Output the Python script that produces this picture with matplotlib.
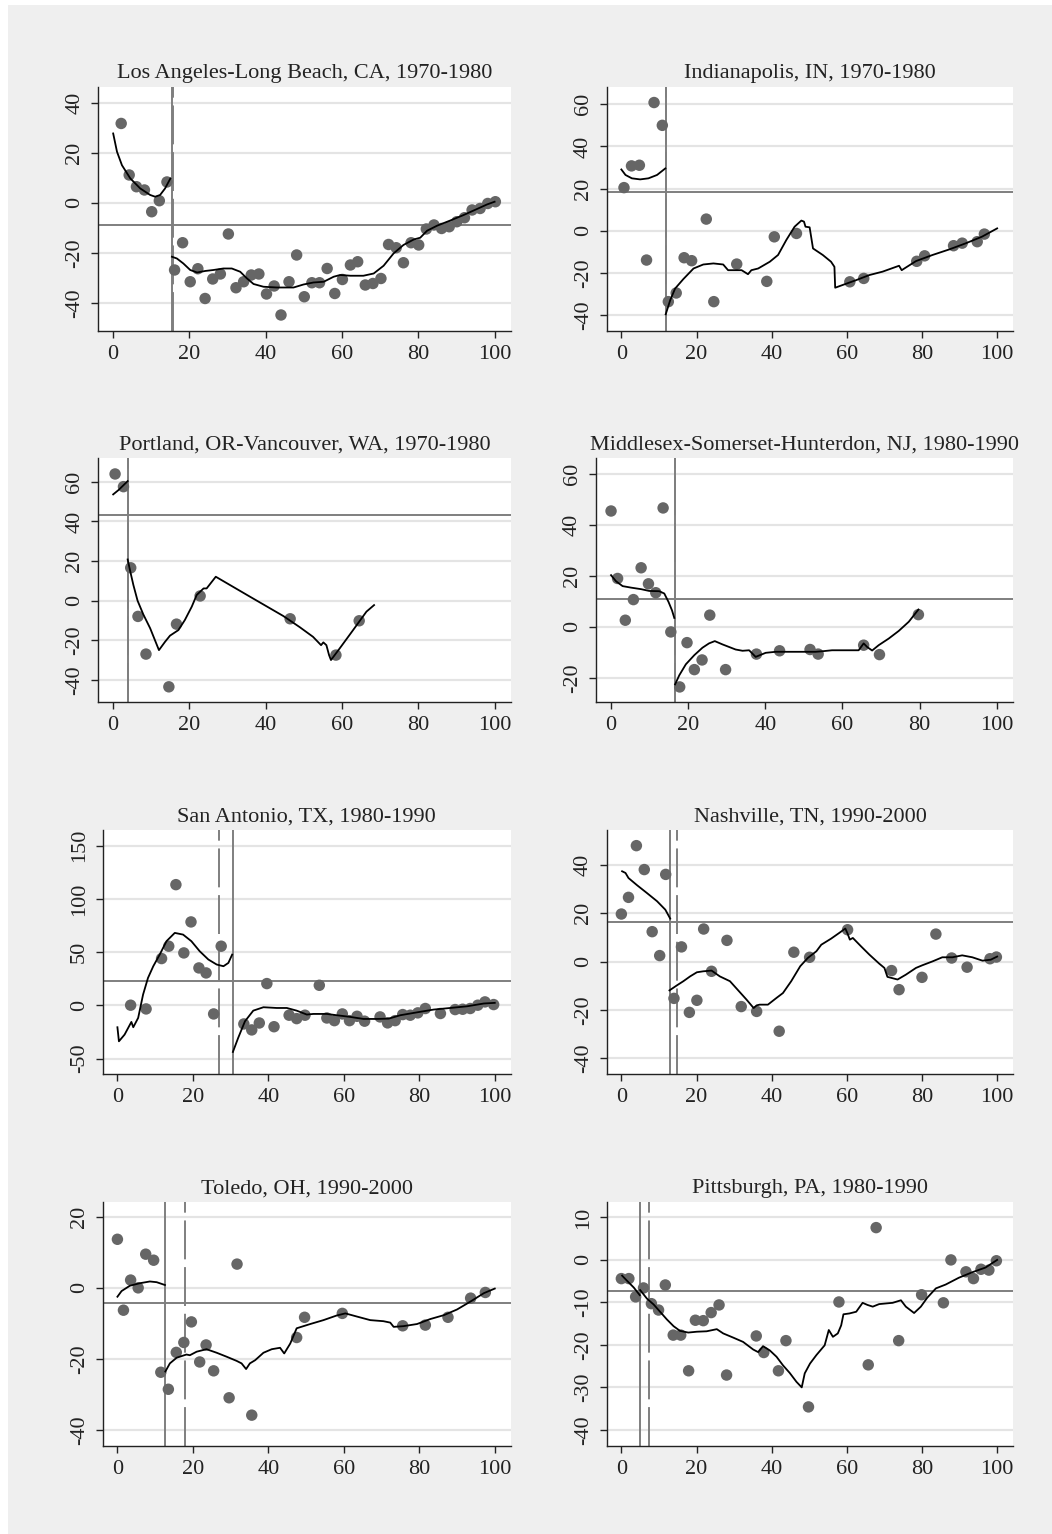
import matplotlib
matplotlib.use("Agg")
import matplotlib.pyplot as plt
from matplotlib.patches import Rectangle

plt.rcParams['font.family'] = ['Liberation Serif', 'DejaVu Serif']

W, H = 1052, 1534

# ---- Los Angeles-Long Beach, CA, 1970-1980
la_x = [2.1, 4.2, 6.1, 8.2, 10.1, 12.1, 14.1, 16.1, 18.2, 20.2, 22.2, 24.1, 26.1, 28.1, 30.2,
        32.2, 34.2, 36.2, 38.2, 40.2, 42.2, 44, 46.1, 48.1, 50.1, 52.1, 54.1, 56.1, 58.1, 60.1,
        62.2, 64.1, 66.1, 68.1, 70.2, 72.2, 74.2, 76.1, 78.1, 80.1, 82.1, 84.1, 86.1, 88.1,
        90.1, 92.1, 94.1, 96.2, 98.2, 100.2]
la_y = [31.7, 11.1, 6.4, 5.1, -3.6, 0.8, 8.3, -26.9, -16, -31.6, -26.4, -38.3, -30.5, -28.5, -12.5,
        -34, -31.6, -28.9, -28.5, -36.5, -33.3, -44.9, -31.6, -20.9, -37.6, -32, -32, -26.3, -36.3, -30.7,
        -24.9, -23.6, -32.9, -32.3, -30.3, -16.7, -18, -24, -16, -16.9, -10.5, -8.9, -10.3, -9.6,
        -7.6, -6, -2.9, -2.3, -0.3, 0.4]
la_lx = [0, 1, 2.3, 4.5, 7.1, 9.7, 11, 12.3, 13.6, 15]
la_ly = [27.7, 20.4, 15, 9.7, 5.7, 3.1, 2.4, 3.1, 5.7, 9.7]
la_rx = [15.4, 16.7, 18.4, 20.2, 22, 24.1, 26.3, 28.9, 31.1, 33.3, 35.1, 36.8, 39.4, 42.9, 47.3,
         49.9, 52.5, 55.2, 57.8, 59.5, 62.2, 65.6, 68.3, 70.9, 73.5, 76.1, 78.8, 80.5, 82.3, 84.9,
         88.4, 91.9, 95.4, 98, 100]
la_ry = [-21.6, -22.3, -24.3, -26.9, -27.9, -27.3, -26.9, -26.3, -26.3, -27.6, -30.3, -32.5, -33.6,
         -33.9, -33.9, -32.7, -31.9, -31.6, -29.6, -28.9, -29.2, -29.2, -28.3, -25.2, -20.3, -16.9,
         -14.7, -14, -11.2, -9.2, -7.1, -4.9, -2.5, -0.7, 0.4]

# ---- Indianapolis, IN, 1970-1980
in_x = [0.7, 2.7, 4.8, 6.7, 8.7, 10.9, 12.5, 14.6, 16.7, 18.7, 22.6, 24.6, 30.7, 38.7, 40.7, 46.6,
        60.8, 64.5, 78.6, 80.7, 88.4, 90.7, 94.7, 96.6]
in_y = [20.5, 30.8, 31.1, -13.8, 60.8, 50, -33.5, -29.4, -12.7, -14.1, 5.6, -33.5, -15.7, -23.9,
        -2.8, -1.2, -24.1, -22.5, -14.4, -11.8, -7, -5.8, -5.1, -1.5]
in_lx = [0, 1.1, 2.8, 5, 7.2, 9.5, 11.7]
in_ly = [29.1, 26.5, 24.9, 24.4, 24.9, 26.5, 29.6]
in_rx = [11.8, 13, 14.3, 16.5, 19.2, 21.8, 24.5, 27.1, 28.4, 30.2, 32, 33.7, 34.6, 36.4, 39.5, 41.7,
         43.9, 46.1, 47.9, 48.6, 49, 50.1, 51, 53.6, 55.8, 56.7, 56.9, 58.9, 62.5, 66, 69.5, 73.9,
         74.6, 75.3, 78.4, 82.8, 87.2, 91.6, 96, 100]
in_ry = [-39.5, -32.8, -27.3, -22.8, -17.8, -15.9, -15.4, -15.9, -18.6, -18.6, -18.6, -20.5, -18.6,
         -17.8, -14.6, -11.4, -4.3, 2, 4.9, 4.4, 2, 1.7, -8.3, -11.4, -14.6, -17, -26.9, -25.6, -23.3,
         -20.9, -19.3, -16.5, -18.6, -17.8, -14.3, -11.4, -8.8, -5.9, -2.7, 1.2]

# ---- Portland, OR-Vancouver, WA, 1970-1980
po_x = [0.5, 2.7, 4.6, 6.5, 8.6, 14.6, 16.6, 22.8, 46.4, 58.4, 64.5]
po_y = [63.9, 57.5, 16.6, -7.9, -26.9, -43.4, -11.8, 2.4, -9.1, -27.4, -10.1]
po_lx = [0, 1.4, 3.8]
po_ly = [53.6, 55.8, 60.3]
po_rx = [3.8, 4.5, 5.3, 6.4, 7.9, 9.7, 12, 13.6, 14.9, 17.1, 18.8, 20.6, 21.9, 23.7, 24.5, 26.9,
         35.9, 44.6, 48.9, 52.4, 54.5, 55.1, 55.9, 56.6, 57.1, 59.4, 62.9, 66.4, 68.4]
po_ry = [20.8, 14.6, 7.9, 0, -6.9, -13.9, -24.9, -20.7, -17.6, -14.8, -9.7, -3, 2.9, 6.2, 6.2, 12.1,
         2, -7.7, -13.3, -18.2, -22.4, -21, -22.4, -27.4, -29.9, -24, -14.8, -5.5, -2.2]

# ---- Middlesex-Somerset-Hunterdon, NJ, 1980-1990
mi_x = [0, 1.7, 3.7, 5.8, 7.8, 9.7, 11.6, 13.5, 15.5, 17.8, 19.7, 21.6, 23.6, 25.6, 29.7, 37.7,
        43.7, 51.6, 53.7, 65.5, 69.6, 79.7]
mi_y = [45.5, 19, 2.6, 10.7, 23.2, 16.9, 13.4, 46.7, -2, -23.6, -6.2, -16.8, -13, 4.6, -16.8, -10.7,
        -9.4, -8.9, -10.7, -7.2, -10.9, 4.8]
mi_lx = [0, 1.3, 3, 5.2, 7.8, 9.9, 12.5, 13.8, 14.9, 15.8, 16.4]
mi_ly = [20.3, 17.9, 16, 15.4, 14.8, 14.1, 14, 13.1, 9.8, 6.5, 3.5]
mi_rx = [16.6, 17.7, 19.4, 21.6, 23.7, 25.4, 26.9, 28.9, 32.3, 34.1, 35.8, 37.5, 40.1, 42.7, 48.7,
         53, 54.7, 57.3, 61.6, 64.2, 65.5, 66.4, 67.7, 69.4, 72, 74.6, 77.2, 79.7]
mi_ry = [-22.6, -19, -14.7, -11.1, -8.2, -6.5, -5.6, -6.9, -8.9, -9.4, -9.2, -11.8, -10.2, -9.8,
         -9.8, -9.8, -9.6, -9.2, -9.2, -9.2, -6.5, -7.9, -9.3, -7.2, -4.6, -1.6, 2, 6.8]

# ---- San Antonio, TX, 1980-1990
sa_x = [3.5, 7.6, 11.7, 13.6, 15.5, 17.6, 19.5, 21.6, 23.5, 25.5, 27.5, 33.5, 35.6, 37.6, 39.6,
        41.5, 45.5, 47.5, 49.7, 53.5, 55.5, 57.5, 59.6, 61.5, 63.5, 65.5, 69.6, 71.6, 73.6, 75.6,
        77.6, 79.6, 81.6, 85.6, 89.5, 91.5, 93.5, 95.5, 97.4, 99.7]
sa_y = [0.2, -3.3, 44, 55.6, 113.4, 49.3, 78.4, 35.2, 30.5, -8, 55.6, -17.4, -23, -16.5, 20.5, -20,
        -9.2, -12.4, -9.2, 18.9, -11.8, -14.3, -8, -14.3, -10.2, -14.8, -10.8, -16.4, -14.3, -8.6,
        -9.2, -7, -2.9, -7.6, -3.9, -3.6, -2.9, 0.2, 3.3, 0.8]
sa_lx = [0, 0.4, 1.9, 3.7, 4.2, 5.5, 6.8, 8.1, 9.5, 11.2, 13, 15.2, 17.4, 19.6, 21.8, 24.1, 26.3,
         28.1, 29.4, 30.4]
sa_ly = [-20.5, -33.7, -27.4, -15.5, -20.5, -11.7, 10.2, 25.8, 36.8, 47.7, 60.3, 68.1, 66.5, 60.3,
         50.9, 43.1, 38.4, 36.8, 39.9, 47.7]
sa_rx = [30.6, 32, 33.8, 36, 38.7, 42.2, 44.9, 47.5, 50.2, 51.9, 55.5, 58.1, 61.7, 65.2, 68.8, 71.9,
         75, 79.4, 83.8, 88.2, 92.7, 97.1, 100]
sa_ry = [-43.7, -30.5, -14.9, -4.9, -1.7, -2.4, -2.4, -4.9, -8.6, -8, -8, -9.2, -10.8, -12.7, -12.7,
         -12.4, -9.2, -6.5, -3.9, -2.4, -0.8, 1.8, 2.4]

# ---- Nashville, TN, 1990-2000
na_x = [0, 1.9, 4, 6.1, 8.2, 10.2, 11.8, 14, 16, 18.1, 20.1, 21.9, 24, 28.1, 31.9, 36, 42, 45.9,
        50.1, 60.2, 71.9, 73.9, 80, 83.7, 87.9, 92, 98.1, 99.8]
na_y = [19.7, 26.6, 48, 38.1, 12.4, 2.5, 36.1, -15.2, 6.1, -21, -16, 13.5, -4, 8.8, -18.6, -20.6,
        -28.8, 3.9, 1.8, 13.2, -3.7, -11.6, -6.5, 11.4, 1.5, -2.3, 1.2, 1.9]
na_lx = [0.2, 1.1, 1.9, 4.2, 6.8, 9.5, 11.7, 13]
na_ly = [37.4, 36.7, 34.6, 31.6, 28.4, 25, 21.5, 17.8]
na_rx = [12.8, 14.8, 16.5, 18.3, 20.1, 21.8, 24, 26.2, 28.9, 31.1, 33.3, 35.2, 36, 36.8, 39, 41.3,
         43, 45.2, 47.6, 49.6, 51.9, 53.2, 55.8, 58, 59.6, 60.2, 60.8, 61.6, 63.8, 66, 68.6, 70,
         70.8, 73.5, 75.7, 78.4, 80.1, 82.8, 85.4, 88.1, 90.7, 93.4, 96.1, 98.3, 100]
na_ry = [-11.9, -9.8, -8.1, -6.1, -4.4, -4, -3.7, -6.1, -8.1, -11.9, -15.7, -19.2, -18.1, -17.8,
         -17.8, -15, -13, -8.1, -1.9, 1.5, 4.3, 7, 9.5, 11.9, 13.7, 11.6, 9.1, 9.8, 6.3, 2.9, -0.8,
         -2.6, -6.3, -7.4, -5.4, -2.6, -1.5, 0.1, 1.8, 1.8, 2.6, 1.8, 0.4, 0.8, 2.1]

# ---- Toledo, OH, 1990-2000
to_x = [0, 1.6, 3.5, 5.5, 7.5, 9.6, 11.5, 13.5, 15.6, 17.6, 19.6, 21.8, 23.5, 25.5, 29.6, 31.7,
        35.6, 47.5, 49.6, 59.6, 75.6, 81.6, 87.6, 93.6, 97.5]
to_y = [13.7, -6.3, 2.2, 0, 9.5, 7.8, -23.8, -28.6, -18.2, -15.4, -9.6, -20.9, -16.1, -23.4, -31,
        6.7, -35.9, -14, -8.3, -7.2, -10.7, -10.5, -8.3, -2.9, -1.3]
to_lx = [0, 1.1, 3.3, 5.9, 8.6, 10.4, 12.6]
to_ly = [-2.5, -0.9, 0.6, 1.3, 1.8, 1.6, 0.8]
to_rx = [12.7, 13.9, 15.7, 18.3, 19.2, 21, 23.6, 26.3, 28.9, 31.6, 32.9, 34.1, 35.1, 36.5, 38.7,
         40.9, 43.1, 44.2, 45.8, 47.5, 51.1, 54.6, 58.1, 60.4, 63.5, 67, 70.5, 72.3, 73.2, 75.8,
         79.4, 82.9, 86.5, 90, 93.5, 97.1, 100]
to_ry = [-23.6, -21.3, -19.7, -18.8, -19, -18, -17.3, -18.3, -19.4, -20.6, -21.3, -22.9, -21.3,
         -20.4, -18.3, -17.3, -16.9, -18.5, -15.7, -11.4, -10.2, -9.1, -7.8, -7.2, -8.1, -9.1, -9.4,
         -9.8, -11, -10.8, -10.2, -8.8, -7.7, -6.1, -3.9, -1.5, -0.2]

# ---- Pittsburgh, PA, 1980-1990
pi_x = [0, 2, 3.8, 5.9, 8, 9.9, 11.7, 13.8, 15.8, 17.9, 19.7, 21.8, 23.9, 26, 28, 35.9, 37.9, 41.8,
        43.8, 49.8, 57.9, 65.7, 67.8, 73.8, 79.9, 85.7, 87.7, 91.7, 93.7, 95.7, 97.8, 99.8]
pi_y = [-4.4, -4.4, -8.7, -6.6, -10.3, -11.8, -5.9, -17.7, -17.7, -26.1, -14.2, -14.3, -12.4, -10.6,
        -27.1, -17.9, -21.8, -26.1, -19, -34.6, -9.9, -24.7, 7.6, -19, -8.2, -10.1, 0, -2.8, -4.4,
        -2.2, -2.4, -0.2]
pi_lx = [0.2, 1.5, 3.3, 4.9]
pi_ly = [-3.7, -4.9, -6.5, -8.3]
pi_rx = [5, 6.8, 8.6, 10.3, 12.1, 13.9, 15.6, 17.8, 20.1, 22.7, 25.4, 27.1, 29.8, 32.4, 35.1, 36.4,
         37.7, 39.5, 41.3, 43, 44.8, 46.6, 48, 48.8, 50.2, 51.9, 54.1, 55.2, 56.3, 57.6, 58.5, 59.1,
         60.7, 62.5, 64.2, 65.5, 66.9, 68.6, 72.2, 74.4, 75.7, 77.9, 79.7, 81.4, 83.7, 86.3, 89.8,
         93.4, 96.9, 100]
pi_ry = [-7.1, -9.1, -10.5, -12.2, -14, -15.6, -16.7, -17.1, -16.9, -16.8, -16.3, -17.3, -18.3,
         -19.3, -21.1, -21.7, -20.3, -21.3, -22.8, -24.8, -26.6, -28.7, -30, -26.7, -24.4, -22.4,
         -20.1, -16.5, -18.1, -17.3, -15.4, -12.8, -12.6, -12.2, -10.1, -10.6, -11, -10.4, -10.1,
         -9.5, -11, -12.5, -11, -8.9, -6.7, -5.8, -4.2, -2.9, -1.8, 0]

titles = ["Los Angeles-Long Beach, CA, 1970-1980", "Indianapolis, IN, 1970-1980",
          "Portland, OR-Vancouver, WA, 1970-1980", "Middlesex-Somerset-Hunterdon, NJ, 1980-1990",
          "San Antonio, TX, 1980-1990", "Nashville, TN, 1990-2000",
          "Toledo, OH, 1990-2000", "Pittsburgh, PA, 1980-1990"]
hlines = [-8.9, 18.6, 43.2, 11.1, 23.3, 16.6, -4.4, -7.3]
vsolid = [15.3, 11.9, 3.8, 16.7, 30.5, 13.0, 12.6, 4.86]
vdash = [15.6, 11.9, 3.9, 16.7, 27.0, 14.75, 17.9, 7.24]

panels = [
    (la_x, la_y, la_lx, la_ly, la_rx, la_ry, (-51.3, 46.4), range(-40, 41, 20)),
    (in_x, in_y, in_lx, in_ly, in_rx, in_ry, (-47.4, 68.3), range(-40, 61, 20)),
    (po_x, po_y, po_lx, po_ly, po_rx, po_ry, (-50.9, 71.8), range(-40, 61, 20)),
    (mi_x, mi_y, mi_lx, mi_ly, mi_rx, mi_ry, (-29.4, 66.2), range(-20, 61, 20)),
    (sa_x, sa_y, sa_lx, sa_ly, sa_rx, sa_ry, (-64.4, 165), range(-50, 151, 50)),
    (na_x, na_y, na_lx, na_ly, na_rx, na_ry, (-46.5, 54.6), range(-40, 41, 20)),
    (to_x, to_y, to_lx, to_ly, to_rx, to_ry, (-44.6, 24.3), range(-40, 21, 20)),
    (pi_x, pi_y, pi_lx, pi_ly, pi_rx, pi_ry, (-43.8, 13.7), range(-40, 11, 10)),
]

# axes boxes in pixels: left, top, right, bottom
lefts = [98.3, 606.7, 98.3, 596, 102.7, 606.7, 102.7, 606.7]
rights = [511, 1013.3] * 4
tops = [86.7, 458.3, 829.7, 1201.7]
bottoms = [331, 701.7, 1074, 1446]

fig = plt.figure(figsize=(W / 100, H / 100), dpi=100)
fig.patch.set_facecolor('white')
fig.add_artist(Rectangle((8 / W, 0), 1 - 8 / W, 1 - 5 / H, transform=fig.transFigure,
                         facecolor='#efefef', edgecolor='none', zorder=-10))

gray = '#7f7f7f'
for i, (xs, ys, lx, ly, rx, ry, ylim, yt) in enumerate(panels):
    row = i // 2
    l, r = lefts[i], rights[i]
    t, b = tops[row], bottoms[row]
    ax = fig.add_axes([l / W, 1 - b / H, (r - l) / W, (b - t) / H])
    ax.set_facecolor('white')
    ax.set_xlim(-3.9, 104.3)
    ax.set_ylim(*ylim)
    ax.set_xticks(range(0, 101, 20))
    ax.set_yticks(list(yt))
    ax.set_yticklabels([str(v) for v in yt], rotation=90, va='center')
    for v in yt:
        ax.axhline(v, color='#e4e4e4', lw=1.6, zorder=0)
    ax.axhline(hlines[i], color=gray, lw=1.4, zorder=1)
    ax.axvline(vsolid[i], color=gray, lw=1.4, zorder=1)
    ax.axvline(vdash[i], color=gray, lw=1.4, ls=(0, (20, 4)), zorder=1)
    ax.scatter(xs, ys, s=68, color='#666666', edgecolors='none', zorder=2)
    ax.plot(lx, ly, color='black', lw=1.3, zorder=3)
    ax.plot(rx, ry, color='black', lw=1.3, zorder=3)
    for sp in ['top', 'right']:
        ax.spines[sp].set_visible(False)
    for sp in ['left', 'bottom']:
        ax.spines[sp].set_color('#222222')
        ax.spines[sp].set_linewidth(1.0)
    ax.tick_params(direction='out', length=5, width=1, color='#222222',
                   labelsize=16, labelcolor='#222222', pad=5)
    ax.set_title(titles[i], fontsize=16, color='#222222', pad=6)

fig.savefig('out.png', dpi=100, facecolor=fig.get_facecolor())
